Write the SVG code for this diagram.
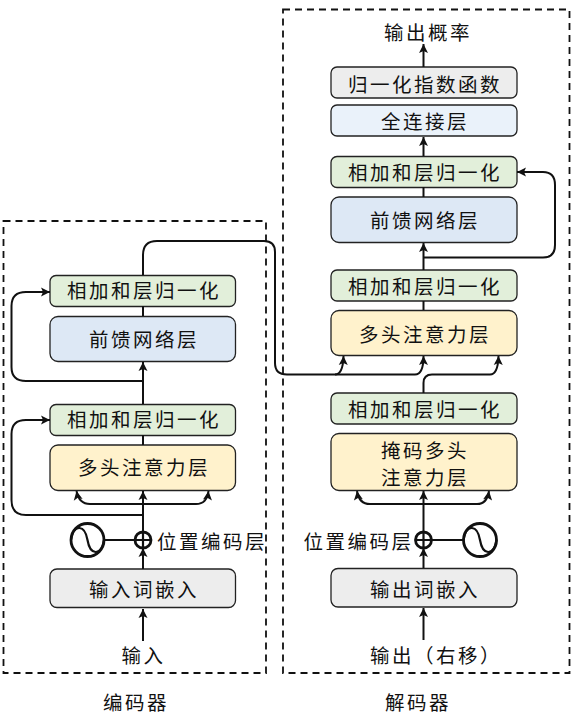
<svg xmlns="http://www.w3.org/2000/svg" width="574" height="718" viewBox="0 0 574 718">
<style>
text{font-family:"Noto Sans CJK SC","Noto Sans CJK JP",sans-serif;font-size:19.5px;letter-spacing:2.500px;fill:#111;text-anchor:middle}
.b{stroke:#222;stroke-width:1.3}
.g{fill:#e2efda}.l{fill:#dde8f5}.y{fill:#fff2cc}.e{fill:#ededed}.p{fill:#eaf2fa}
.frame{fill:none;stroke:#111;stroke-width:1.800;stroke-dasharray:7 5}
.c{fill:none;stroke:#111;stroke-width:2}
.a{marker-end:url(#arrow)}
.s{fill:#fff;stroke:#111;stroke-width:2.800}
.t{fill:none;stroke:#111;stroke-width:2.200}
</style>
<defs>
<marker id="arrow" markerUnits="userSpaceOnUse" markerWidth="11" markerHeight="11" refX="9.5" refY="5.5" orient="auto">
<path d="M0.5 1L9.5 5.5L0.5 10L2.5 5.5Z" fill="#111"/>
</marker>
</defs>
<g id="frames">
<rect class="frame" x="3.5" y="221" width="262.5" height="452"/>
<rect class="frame" x="283" y="9.5" width="286.5" height="663.5"/>
</g>
<g id="enc-add2"><rect class="b g" x="50" y="275.500" width="185.500" height="31" rx="6"/><text x="144" y="298">相加和层归一化</text></g>
<g id="enc-ff"><rect class="b l" x="50" y="316.500" width="185.500" height="45" rx="8"/><text x="144" y="346.500">前馈网络层</text></g>
<g id="enc-add1"><rect class="b g" x="50" y="404.500" width="185.500" height="31" rx="6"/><text x="144" y="427">相加和层归一化</text></g>
<g id="enc-attn"><rect class="b y" x="50" y="445" width="185.500" height="45.500" rx="8"/><text x="144" y="474.500">多头注意力层</text></g>
<g id="enc-plus"><circle class="s" cx="143" cy="540" r="8"/><path class="t" d="M135 540H151M143 532V548"/></g>
<g id="enc-sine"><circle class="s" cx="87.500" cy="540" r="16.500"/><path class="t" d="M71 540C74 523 85 525 87.500 540S101 557 104 540"/></g>
<g id="enc-pos-label"><text x="212" y="548.500">位置编码层</text></g>
<g id="enc-embed"><rect class="b e" x="50" y="569" width="185.500" height="38.500" rx="7"/><text x="144" y="596.500">输入词嵌入</text></g>
<g id="enc-input"><text x="143.500" y="662.500">输入</text></g>
<g id="enc-title"><text x="136" y="709.500">编码器</text></g>
<g id="dec-out"><text x="428" y="39.500">输出概率</text></g>
<g id="dec-softmax"><rect class="b e" x="331" y="67" width="186" height="31" rx="6"/><text x="425" y="91.500">归一化指数函数</text></g>
<g id="dec-fc"><rect class="b p" x="331" y="105" width="186" height="31" rx="6"/><text x="425" y="128.500">全连接层</text></g>
<g id="dec-add3"><rect class="b g" x="331" y="156.500" width="186" height="31" rx="6"/><text x="425" y="179.500">相加和层归一化</text></g>
<g id="dec-ff"><rect class="b l" x="331" y="197" width="186" height="45.500" rx="8"/><text x="425" y="227.500">前馈网络层</text></g>
<g id="dec-add2"><rect class="b g" x="331" y="270" width="186" height="31" rx="6"/><text x="425" y="293.500">相加和层归一化</text></g>
<g id="dec-attn"><rect class="b y" x="331" y="310.500" width="186" height="45" rx="8"/><text x="425" y="341.500">多头注意力层</text></g>
<g id="dec-add1"><rect class="b g" x="331" y="393" width="186" height="31" rx="6"/><text x="425" y="416.500">相加和层归一化</text></g>
<g id="dec-masked"><rect class="b y" x="331" y="433.500" width="186" height="57" rx="8"/><text x="425" y="457.500">掩码多头</text><text x="425" y="484.500">注意力层</text></g>
<g id="dec-plus"><circle class="s" cx="423.500" cy="540" r="8"/><path class="t" d="M415.500 540H431.500M423.500 532V548"/></g>
<g id="dec-sine"><circle class="s" cx="480" cy="540" r="16.500"/><path class="t" d="M463.500 540C466.500 523 477.500 525 480 540S493.500 557 496.500 540"/></g>
<g id="dec-pos-label"><text x="358.500" y="548.500">位置编码层</text></g>
<g id="dec-embed"><rect class="b e" x="331" y="568.500" width="186" height="38.500" rx="7"/><text x="425" y="596.500">输出词嵌入</text></g>
<g id="dec-input"><text x="436" y="662.500">输出（右移）</text></g>
<g id="dec-title"><text x="418" y="709.500">解码器</text></g>
<g id="connectors">
<path class="c a" d="M143 641V609"/>
<path class="c a" d="M143 569V548"/>
<path class="c a" d="M143 532V491"/>
<path class="c a" d="M143 504H90Q79 504 76.500 491"/>
<path class="c a" d="M143 504H196Q207 504 208.500 491"/>
<path class="c a" d="M143 515H26Q11.500 515 11.500 500V434Q11.500 420 26 420H50"/>
<path class="c" d="M143 445V435"/>
<path class="c a" d="M143 404V362"/>
<path class="c a" d="M143 381H26Q11.500 381 11.500 367V306Q11.500 292 26 292H50"/>
<path class="c" d="M143 316V306"/>
<path class="c a" d="M143 275V255Q143 241 157 241H264Q275 241 275 252V363Q275 374.500 287 374.500H335Q343 374.500 343.500 356"/>
<path class="c a" d="M335 374.500H415Q423.500 374.500 423.500 356"/>
<path class="c a" d="M423.500 393V383Q423.500 374.500 432 374.500H490Q498 374.500 498.500 356"/>
<path class="c" d="M423.500 310V301"/>
<path class="c a" d="M423.500 270V243"/>
<path class="c a" d="M423.500 257.500H543Q555 257.500 555 245V185Q555 172 543 172H517"/>
<path class="c" d="M423.500 197V187"/>
<path class="c a" d="M423.500 156V137"/>
<path class="c a" d="M423.500 67V44"/>
<path class="c a" d="M423.500 640V608"/>
<path class="c a" d="M423.500 568V548"/>
<path class="c a" d="M423.500 532V491"/>
<path class="c a" d="M423.500 504H370Q359 504 357 491"/>
<path class="c a" d="M423.500 504H477Q487 504 489 491"/>
<path class="c" d="M104 540H135"/>
<path class="c" d="M431.500 540H463.500"/>
</g>
</svg>
